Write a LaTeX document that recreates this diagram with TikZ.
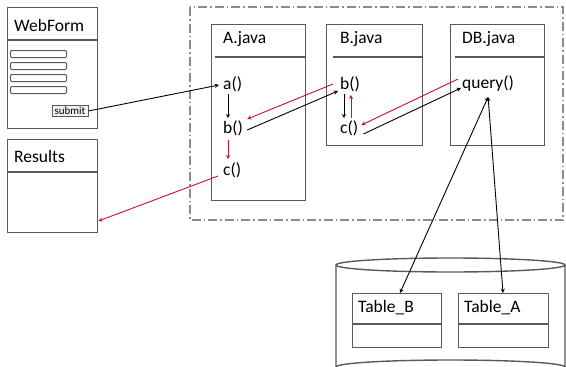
\documentclass[tikz,border=0pt]{standalone}
\usepackage{fontspec}
\setmainfont{Carlito}
\usetikzlibrary{positioning,shapes.geometric,calc}
\definecolor{boxgray}{HTML}{595959}
\definecolor{frame}{HTML}{8C8C8C}
\definecolor{callred}{HTML}{C8102E}
\tikzset{
    classbox/.style={draw=boxgray,line width=1.4pt,rectangle,anchor=north west,inner sep=0pt},
    divider/.style={draw=boxgray,line width=1.4pt},
    title/.style={anchor=west,inner sep=0pt,font=\fontsize{17.5}{19}\selectfont},
    method/.style={anchor=west,inner sep=0pt,font=\fontsize{17.5}{19}\selectfont},
    field/.style={draw=boxgray,line width=1pt,rounded corners=1pt,anchor=north west,minimum width=56,minimum height=7,inner sep=0pt},
    call/.style={->,>=stealth,line width=0.9pt},
    back/.style={->,>=stealth,line width=0.9pt,callred},
}

\begin{document}
\begin{tikzpicture}[x=1pt,y=-1pt]
            \clip (0,0) rectangle (566,367);
            % package frame
            \draw[frame,line width=1.4pt,dash pattern=on 9pt off 3pt on 1.5pt off 3pt] (190,7) rectangle (563,220);

            % web form and results
            \node[classbox,minimum width=90,minimum height=121] (web) at (7,7) {};
            \draw[divider] ($(web.north west)+(0,33)$) -- ($(web.north east)+(0,33)$);
            \node[title] (webt) at ($(web.north west)+(7,18)$) {WebForm};
            \foreach \i in {1,...,4}
                \node[field] (f\i) at (10,{50+12*(\i-1)}) {};
            \node[draw=boxgray,fill=black!5,line width=0.8pt,inner sep=1pt,font=\fontsize{11}{12}\selectfont,minimum width=36,minimum height=11] (submit) at (70,111) {submit};

            \node[classbox,minimum width=90,minimum height=93] (res) at (7,139) {};
            \draw[divider] ($(res.north west)+(0,33)$) -- ($(res.north east)+(0,33)$);
            \node[title] (rest) at ($(res.north west)+(7,17)$) {Results};

            % classes
            \node[classbox,minimum width=94,minimum height=176] (A) at (211,24) {};
            \draw[divider] ($(A.north west)+(4,33)$) -- ($(A.north east)+(0,33)$);
            \node[title] (At) at ($(A.north west)+(12,15)$) {A.java};
            \node[method] (Aa) at (223,84) {a()};
            \node[method] (Ab) at (223,128) {b()};
            \node[method] (Ac) at (223,170) {c()};

            \node[classbox,minimum width=96,minimum height=121] (B) at (326,24) {};
            \draw[divider] ($(B.north west)+(7,33)$) -- ($(B.north east)+(0,33)$);
            \node[title] (Bt) at ($(B.north west)+(14,15)$) {B.java};
            \node[method] (Bb) at (340,84) {b()};
            \node[method] (Bc) at (340,128) {c()};

            \node[classbox,minimum width=94,minimum height=121] (DB) at (450,24) {};
            \draw[divider] ($(DB.north west)+(5,33)$) -- ($(DB.north east)+(0,33)$);
            \node[title] (DBt) at ($(DB.north west)+(12,15)$) {DB.java};
            \node[method] (q) at (462,84) {query()};

            % database
            \draw[boxgray,line width=1.4pt] (336,265) -- (336,367) arc[start angle=180,end angle=360,x radius=114.5,y radius=7] -- (565,265);
            \draw[boxgray,line width=1.4pt] (450.5,265) ellipse[x radius=114.5,y radius=7];
            \node[classbox,minimum width=89,minimum height=54] (tb) at (352,293) {};
            \draw[divider] ($(tb.north west)+(0,31)$) -- ($(tb.north east)+(0,31)$);
            \node[title] (tbt) at ($(tb.north west)+(6,15)$) {Table\_B};
            \node[classbox,minimum width=90,minimum height=54] (ta) at (458,293) {};
            \draw[divider] ($(ta.north west)+(0,31)$) -- ($(ta.north east)+(0,31)$);
            \node[title] (tat) at ($(ta.north west)+(6,15)$) {Table\_A};

            % calls
            \draw[call] (submit.east) -- ($(Aa.west)+(-4,1)$);
            \draw[call] ($(Aa.south west)+(5,2)$) -- ($(Ab.north west)+(5,-2)$);
            \draw[back] ($(Ab.south west)+(5,4)$) -- ($(Ac.north west)+(5,-3)$);
            \draw[call] ($(Ab.east)+(4,2)$) -- ($(Bb.west)+(-2,7)$);
            \draw[back] ($(Bb.west)+(-7,0)$) -- ($(Ab.east)+(4,-9)$);
            \draw[call] ($(Bb.south west)+(4,2)$) -- ($(Bc.north west)+(4,-2)$);
            \draw[back] ($(Bc.north west)+(11,-2)$) -- ($(Bb.south west)+(11,3)$);
            \draw[call] ($(Bc.east)+(5,6)$) -- ($(q.west)+(-1,4)$);
            \draw[back] ($(q.west)+(-4,-5)$) -- ($(Bc.east)+(3,-3)$);
            \draw[back] ($(Ac.west)+(-5,6)$) -- (res.east |- 0,221);
            \draw[call,<->] ($(q.south)+(0,5)$) -- (tb.north -| 400,0);
            \draw[call,<->] ($(q.south)+(0,5)$) -- (ta.north -| 503,0);
        \end{tikzpicture}
\end{document}
